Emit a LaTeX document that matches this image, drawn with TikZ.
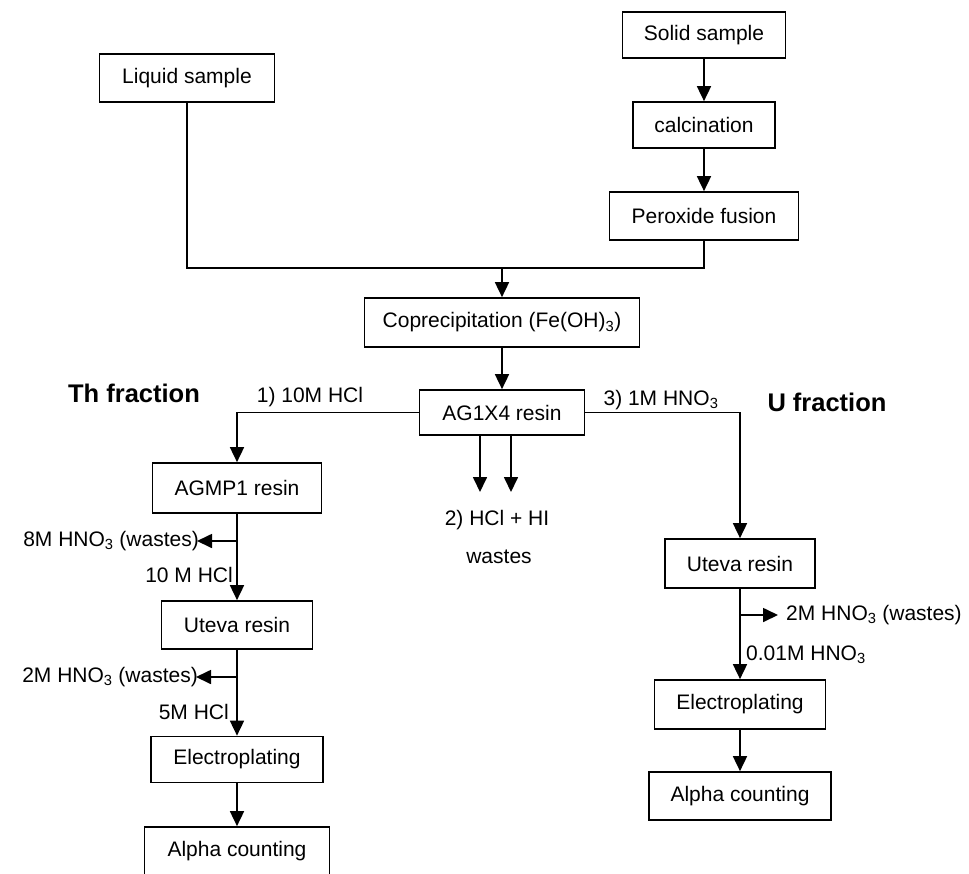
\documentclass[tikz,border=0pt]{standalone}
\usepackage{fontspec}
\setmainfont{Liberation Sans}
\usetikzlibrary{arrows.meta}
\begin{document}
\begin{tikzpicture}[x=1pt,y=-1pt,
  box/.style={draw,line width=1.7pt,rectangle,inner sep=0pt,font=\fontsize{21}{25}\selectfont},
  lbl/.style={inner sep=0pt,font=\fontsize{21}{25}\selectfont},
  frac/.style={inner sep=0pt,font=\fontsize{25.5}{30}\selectfont\bfseries},
  conn/.style={line width=1.7pt},
  arr/.style={line width=1.7pt,-{Triangle[width=14pt,length=15pt]}}]
\useasboundingbox (0,0) rectangle (969,873);
% boxes
\node[box,minimum width=163pt,minimum height=46pt] (solid) at (704,35) {Solid sample};
\node[box,minimum width=142pt,minimum height=46pt] (calc) at (704,125) {calcination};
\node[box,minimum width=189pt,minimum height=48pt] (perox) at (704,216) {Peroxide fusion};
\node[box,minimum width=175pt,minimum height=48pt] (liquid) at (187,78) {Liquid sample};
\node[box,minimum width=275pt,minimum height=49pt] (coprec) at (502,322.5) {Coprecipitation (Fe(OH)\textsubscript{3})};
\node[box,minimum width=165pt,minimum height=45pt] (ag) at (502,412.5) {AG1X4 resin};
\node[box,minimum width=169pt,minimum height=50pt] (agmp) at (237,488) {AGMP1 resin};
\node[box,minimum width=151pt,minimum height=48pt] (utTh) at (237,625) {Uteva resin};
\node[box,minimum width=172pt,minimum height=46pt] (elTh) at (237,759.5) {Electroplating};
\node[box,minimum width=185pt,minimum height=48pt] (alTh) at (237,851) {Alpha counting};
\node[box,minimum width=150pt,minimum height=49pt] (utU) at (740,563.5) {Uteva resin};
\node[box,minimum width=171pt,minimum height=49pt] (elU) at (740,704.5) {Electroplating};
\node[box,minimum width=182pt,minimum height=48pt] (alU) at (740,796) {Alpha counting};
% titles
\node[frac] (thf) at (134,393) {Th fraction};
\node[frac] (uf) at (827,402) {U fraction};
% labels
\node[lbl] (l1) at (310,397) {1) 10M HCl};
\node[lbl] (l3) at (661,400) {3) 1M HNO\textsubscript{3}};
\node[lbl] (l2a) at (497,520) {2) HCl + HI};
\node[lbl] (l2b) at (499,557) {wastes};
\node[lbl,anchor=east] (w8) at (199,541) {8M HNO\textsubscript{3} (wastes)};
\node[lbl,anchor=east] (h10) at (233,575) {10 M HCl};
\node[lbl,anchor=east] (w2Th) at (198,677) {2M HNO\textsubscript{3} (wastes)};
\node[lbl,anchor=east] (h5) at (229,712) {5M HCl};
\node[lbl,anchor=west] (w2U) at (786,615) {2M HNO\textsubscript{3} (wastes)};
\node[lbl,anchor=west] (n001) at (746,655) {0.01M HNO\textsubscript{3}};
% coordinates
\coordinate (merge) at (502,268);
\coordinate (d1s) at (480,412.5);
\coordinate (d1e) at (480,492);
\coordinate (d2s) at (511,412.5);
\coordinate (d2e) at (511,492);
\coordinate (b1) at (237,541);
\coordinate (b2) at (237,677);
\coordinate (b3) at (740,615);
% connectors
\draw[arr] (solid) -- (calc);
\draw[arr] (calc) -- (perox);
\draw[conn] (liquid.south) -- (liquid.south |- merge) -- (perox.south |- merge) -- (perox.south);
\draw[arr] (merge) -- (coprec.north);
\draw[arr] (coprec) -- (ag);
\draw[arr] (ag.west) -- (agmp.north |- ag.west) -- (agmp.north);
\draw[arr] (ag.east) -- (utU.north |- ag.east) -- (utU.north);
\draw[arr] (d1s |- ag.south) -- (d1e);
\draw[arr] (d2s |- ag.south) -- (d2e);
\draw[arr] (agmp) -- (utTh);
\draw[arr] (b1) -- ([xshift=-2pt]w8.east);
\draw[arr] (utTh) -- (elTh);
\draw[arr] (b2) -- ([xshift=-2pt]w2Th.east);
\draw[arr] (elTh) -- (alTh);
\draw[arr] (utU) -- (elU);
\draw[arr] (b3) -- ([xshift=-8pt]w2U.west);
\draw[arr] (elU) -- (alU);
\end{tikzpicture}
\end{document}
